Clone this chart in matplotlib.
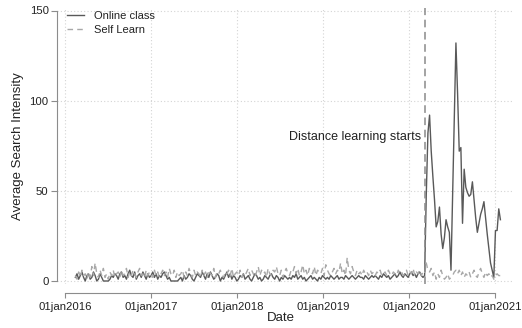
import matplotlib
matplotlib.use("Agg")
import matplotlib.pyplot as plt
import matplotlib.dates as mdates
import pandas as pd

plt.rcParams["font.family"] = ["Liberation Sans", "DejaVu Sans"]
plt.rcParams["xtick.labelsize"] = 8.2
plt.rcParams["ytick.labelsize"] = 8.2

# Weekly average search intensity, first week of the series
start_week = "2016-02-14"
distance_learning_date = "2020-03-08"
annotation_text = "Distance learning starts"
series_names = ["Online class", "Self Learn"]
year_ticks = ["2016-01-01", "2017-01-01", "2018-01-01", "2019-01-01", "2020-01-01", "2021-01-01"]
year_tick_labels = ["01jan2016", "01jan2017", "01jan2018", "01jan2019", "01jan2020", "01jan2021"]
y_ticks = [0, 50, 100, 150]

online_class = [
    2, 4, 1, 3, 5, 2, 0, 3, 4, 1, 2, 5, 3, 0, 1, 4, 2, 0, 0, 0, 0, 1, 3, 2, 4, 3,
    1, 4, 5, 2, 3, 1, 4, 6, 3, 2, 5, 1, 3, 4, 2, 5, 3, 1, 4, 2, 3, 5, 2, 4, 1, 3,
    2, 4, 5, 3, 1, 2, 0, 0, 0, 0, 0, 1, 2, 0, 3, 1, 2, 4, 3, 1, 0, 2, 4, 3, 2, 5,
    3, 1, 4, 2, 5, 3, 1, 2, 4, 3, 0, 2, 1, 3, 5, 2, 4, 1, 3, 2, 0, 1, 3, 2, 4, 1,
    2, 3, 1, 0, 2, 4, 3, 1, 2, 0, 1, 3, 2, 1, 3, 4, 2, 1, 3, 2, 0, 2, 1, 3, 2, 1,
    2, 1, 3, 2, 4, 1, 2, 3, 1, 2, 0, 1, 2, 3, 1, 2, 1, 0, 2, 1, 3, 2, 1, 2, 1, 3,
    2, 1, 2, 3, 1, 2, 2, 1, 3, 2, 1, 2, 3, 2, 1, 2, 3, 2, 2, 1, 3, 2, 1, 2, 3, 2,
    3, 2, 1, 3, 2, 4, 3, 2, 3, 1, 2, 3, 4, 2, 3, 5, 3, 2, 4, 3, 2, 4, 5, 3, 4, 2,
    4, 5, 3, 2,
    3, 48, 82, 92, 72, 58, 45, 30, 33, 41, 26, 18, 24, 34, 30, 27, 6, 47, 90, 132,
    104, 72, 74, 32, 62, 52, 49, 47, 48, 55, 45, 35, 27, 32, 37, 40, 44, 35, 26, 18,
    10, 6, 2, 28, 28, 40, 34,
]

self_learn = [
    3, 1, 5, 2, 6, 3, 4, 1, 5, 2, 8, 3, 10, 4, 2, 6, 3, 7, 2, 4, 1, 5, 3, 6, 2, 4,
    5, 2, 6, 3, 4, 7, 2, 5, 3, 6, 4, 2, 5, 7, 3, 4, 2, 6, 3, 5, 4, 2, 6, 3, 5, 2,
    4, 6, 3, 5, 2, 7, 4, 3, 6, 2, 5, 3, 4, 6, 2, 5, 3, 7, 4, 2, 6, 3, 5, 4, 2, 6,
    3, 5, 2, 6, 4, 3, 7, 2, 5, 4, 6, 3, 2, 5, 4, 6, 3, 7, 2, 4, 5, 3, 6, 2, 4, 3,
    5, 7, 3, 6, 4, 2, 5, 8, 3, 6, 4, 5, 2, 7, 4, 3, 6, 5, 8, 4, 3, 6, 2, 5, 7, 4,
    3, 6, 5, 8, 4, 7, 3, 5, 9, 4, 6, 3, 7, 5, 4, 8, 3, 6, 5, 4, 7, 3, 9, 6, 4, 3,
    5, 7, 4, 6, 5, 10, 4, 6, 3, 13, 6, 4, 8, 5, 3, 6, 4, 5, 3, 6, 4, 5, 3, 6, 4, 5,
    3, 5, 4, 6, 3, 4, 5, 3, 6, 4, 3, 5, 4, 3, 6, 4, 5, 3, 4, 6, 3, 5, 4, 7, 3, 5,
    4, 6, 3, 5,
    4, 10, 6, 5, 7, 3, 5, 1, 4, 2, 6, 3, 1, 2, 4, 1, 2, 3, 5, 6, 4, 6, 3, 5, 2, 4,
    3, 5, 2, 4, 6, 3, 2, 5, 7, 4, 2, 5, 3, 4, 2, 3, 1, 3, 4, 3, 3,
]

weeks = pd.date_range(start_week, periods=len(online_class), freq="W-SUN")
df = pd.DataFrame({"week": weeks, "online": online_class, "self": self_learn[:len(weeks)]})

W, H = 522, 328
fig = plt.figure(figsize=(W / 100, H / 100), dpi=100)
ax_left, ax_top, ax_right, ax_bottom = 57, 8, 513, 284
ax = fig.add_axes([ax_left / W, (H - ax_bottom) / H,
                   (ax_right - ax_left) / W, (ax_bottom - ax_top) / H])

ax.plot(df["week"], df["online"], color="#595959", lw=1.0, label=series_names[0])
ax.plot(df["week"], df["self"], color="#a8a8a8", lw=1.0, ls=(0, (4, 3)), label=series_names[1])

dl = pd.Timestamp(distance_learning_date)
ax.axvline(dl, color="#8a8a8a", lw=1.1, ls=(0, (5, 3)))
ax.text(dl - pd.Timedelta(days=14), 79.7, annotation_text, ha="right", va="center",
        fontsize=9, color="#222222")

tick_dates = pd.to_datetime(year_ticks)
ax.set_xticks(tick_dates, year_tick_labels)
ax.set_yticks(y_ticks, [str(v) for v in y_ticks])

# pixel positions of the first and last year ticks
x_first, x_last = 65, 495
px_per_day = (x_last - x_first) / (tick_dates[-1] - tick_dates[0]).days
ax.set_xlim(tick_dates[0] - pd.Timedelta(days=(x_first - ax_left) / px_per_day),
            tick_dates[-1] + pd.Timedelta(days=(ax_right - x_last) / px_per_day))
px_per_unit = (281 - 10.5) / 150
ax.set_ylim(-(ax_bottom - 281) / px_per_unit, 150 + (10.5 - ax_top) / px_per_unit)

ax.grid(True, color="#d4d4d4", lw=0.8, ls=(0, (1, 2)))
ax.set_axisbelow(True)

for s in ["top", "right"]:
    ax.spines[s].set_visible(False)
ax.spines["left"].set_bounds(0, 150)
ax.spines["left"].set_color("#8c8c8c")
ax.spines["left"].set_linewidth(0.8)
ax.spines["bottom"].set_bounds(mdates.date2num(tick_dates[0]), mdates.date2num(tick_dates[-1]))
ax.spines["bottom"].set_position(("outward", 6.5))
ax.spines["bottom"].set_color("#8c8c8c")
ax.spines["bottom"].set_linewidth(0.8)
ax.tick_params(axis="x", length=3.5, width=0.8, color="#8c8c8c", pad=3,
               labelsize=8.2, labelcolor="#222222")
ax.tick_params(axis="y", length=4, width=0.8, color="#8c8c8c", pad=2,
               labelsize=8.2, labelcolor="#222222")

ax_h = ax_bottom - ax_top
ax_w = ax_right - ax_left
ax.set_xlabel("Date", fontsize=9.5, color="#222222")
ax.xaxis.set_label_coords((281 - ax_left) / ax_w, -(312 - ax_bottom) / ax_h)
ax.set_ylabel("Average Search Intensity", fontsize=9.5, color="#222222")
ax.yaxis.set_label_coords(-(ax_left - 24) / ax_w, 0.5)

ax.legend(loc="upper left", bbox_to_anchor=(0.022, 0.99), frameon=False, fontsize=8,
          borderpad=0, borderaxespad=0, handlelength=1.5, handletextpad=0.9,
          labelspacing=0.4, labelcolor="#222222")

fig.savefig("out.png", dpi=100)
